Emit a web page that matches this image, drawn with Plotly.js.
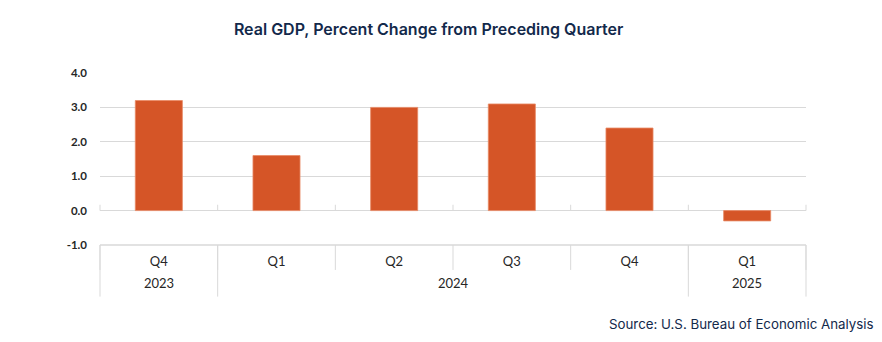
<!DOCTYPE html>
<html><head><meta charset="utf-8">
<script src="https://cdn.plot.ly/plotly-3.0.1.min.js"></script>
<style>html,body{margin:0;padding:0;background:#fff}#chart{width:882px;height:342px}</style>
</head><body><div id="chart"></div>
<script>
const years = ['2023','2024','2024','2024','2024','2025'];
const quarters = ['Q4','Q1','Q2','Q3','Q4','Q1'];
const gdpChange = [3.2, 1.6, 3.0, 3.1, 2.4, -0.3];
const yTicks = [-1, 0, 1, 2, 3, 4];
const yTickText = ['-1.0','0.0','1.0','2.0','3.0','4.0'];
const yearLabels = ['2023','2024','2025'];

const n = quarters.length;
const cats = quarters.map((q, i) => years[i] + ' ' + q);
const grid = '#d9d9d9';
const shapes = [];
// small ticks above zero line and quarter dividers in the axis table
for (let i = 0; i <= n; i++) {
  shapes.push({type:'line', xref:'paper', yref:'y', x0:i/n, x1:i/n, y0:0, y1:0.17,
    line:{color:grid, width:1}});
  shapes.push({type:'line', xref:'paper', yref:'paper', x0:i/n, x1:i/n, y0:0, y1:-0.145,
    line:{color:grid, width:1}});
}
// year group dividers
const annotations = [];
let start = 0;
for (let i = 1; i <= n; i++) {
  if (i === n || years[i] !== years[start]) {
    shapes.push({type:'line', xref:'paper', yref:'paper', x0:start/n, x1:start/n, y0:0, y1:-0.30,
      line:{color:grid, width:1}});
    annotations.push({text:years[start], xref:'x', yref:'paper', x:(start + i - 1)/2, y:-0.221,
      xanchor:'center', yanchor:'middle', showarrow:false,
      font:{family:'Lato, "Open Sans", sans-serif', size:13, color:'#262626'}});
    start = i;
  }
}
shapes.push({type:'line', xref:'paper', yref:'paper', x0:1, x1:1, y0:0, y1:-0.30,
  line:{color:grid, width:1}});
// top line of axis table
shapes.push({type:'line', xref:'paper', yref:'paper', x0:0, x1:1, y0:0, y1:0,
  line:{color:grid, width:1.5}});

annotations.push({text:'Source: U.S. Bureau of Economic Analysis', xref:'paper', yref:'paper',
  x:1.099, y:-0.459, xanchor:'right', yanchor:'middle', showarrow:false,
  font:{family:'Inter, "Open Sans", sans-serif', size:13.3, color:'#13294B'}});

Plotly.newPlot('chart', [{
  type:'bar',
  x:cats,
  y:gdpChange,
  width:0.4,
  marker:{color:'#D55527', line:{color:'#E98A66', width:0.8}},
  hoverinfo:'y'
}], {
  width:882, height:342,
  margin:{l:100, r:76, t:73, b:97},
  paper_bgcolor:'#fff', plot_bgcolor:'#fff',
  showlegend:false,
  title:{text:'Real GDP, Percent Change from Preceding Quarter',
    font:{family:'Inter, "Open Sans", sans-serif', size:16, color:'#13294B', weight:600},
    x:0.486, xanchor:'center', y:0.915, yanchor:'middle'},
  xaxis:{type:'category', tickvals:cats, ticktext:quarters, showgrid:false, zeroline:false,
    showline:false, ticks:'', ticklabelstandoff:7,
    tickfont:{family:'Lato, "Open Sans", sans-serif', size:13, color:'#262626'}},
  yaxis:{range:[-1,4], tickvals:yTicks, ticktext:yTickText,
    showgrid:true, gridcolor:grid, gridwidth:1,
    zeroline:true, zerolinecolor:grid, zerolinewidth:1,
    showline:false, ticks:'', ticklabelstandoff:12,
    tickfont:{family:'Lato, "Open Sans", sans-serif', size:11.5, color:'#262626', weight:700}},
  shapes:shapes,
  annotations:annotations
}, {displayModeBar:false, staticPlot:true});
</script></body></html>
